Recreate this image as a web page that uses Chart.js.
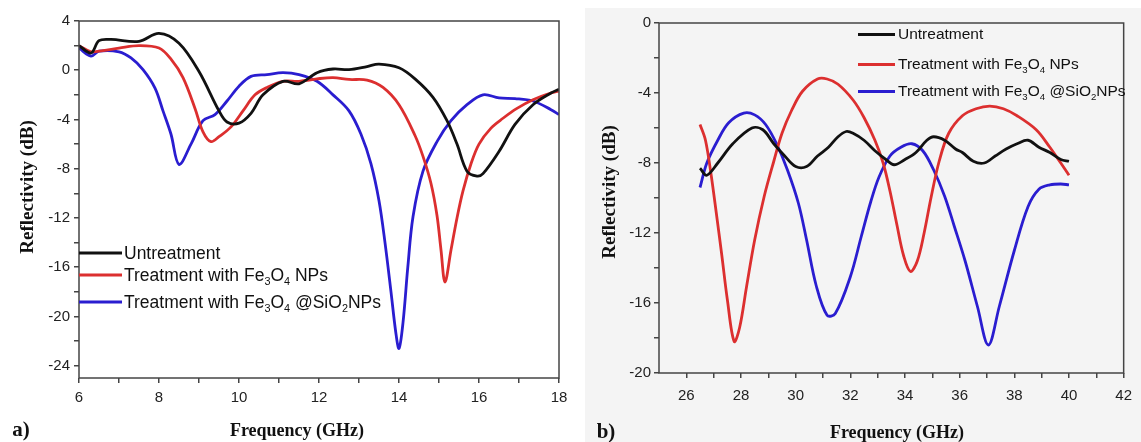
<!DOCTYPE html>
<html>
<head>
<meta charset="utf-8">
<script src="https://cdn.jsdelivr.net/npm/chart.js@4.4.0/dist/chart.umd.min.js"></script>
<style>
body { margin: 0; width: 1141px; height: 442px; background: #fff; position: relative; overflow: hidden; font-family: "Liberation Sans", Arial, sans-serif; }
#panelB { position: absolute; left: 585px; top: 8px; width: 556px; height: 434px; background: #f4f4f4; }
canvas { position: absolute; top: 0; }
.t { position: absolute; font-family: "Liberation Serif", "Times New Roman", serif; font-weight: bold; color: #111; white-space: nowrap; transform: translate(-50%, -50%); }
.row { position: absolute; display: flex; align-items: center; white-space: nowrap; color: #111; transform: translateY(-50%); }
.row .ln { display: inline-block; }
sub { font-size: 0.62em; vertical-align: -0.4em; line-height: 0; }
</style>
</head>
<body>
<div id="panelB"></div>
<canvas id="chartA" width="575" height="442" style="left:0"></canvas>
<canvas id="chartB" width="566" height="442" style="left:575px"></canvas>
<div id="texts"></div>
<script>
// series names (legend uses the html version with subscripts)
const seriesNames = ['Untreatment', 'Treatment with Fe<sub>3</sub>O<sub>4</sub> NPs', 'Treatment with Fe<sub>3</sub>O<sub>4</sub> @SiO<sub>2</sub>NPs'];
const seriesColors = ['#111111', '#dc2f2f', '#2a1dd0'];

// tick positions (labels only on every 2nd one)
const aXTicks = [6, 7, 8, 9, 10, 11, 12, 13, 14, 15, 16, 17, 18];
const aYTicks = [-24, -22, -20, -18, -16, -14, -12, -10, -8, -6, -4, -2, 0, 2, 4];
const bXTicks = [26, 27, 28, 29, 30, 31, 32, 33, 34, 35, 36, 37, 38, 39, 40, 41, 42];
const bYTicks = [-20, -18, -16, -14, -12, -10, -8, -6, -4, -2, 0];

// a) 6-18 GHz
const aFreqBlack = [6.0, 6.3, 6.5, 6.8, 7.5, 8.0, 8.5, 9.0, 9.5, 9.7, 10.0, 10.3, 10.6, 11.1, 11.5, 11.95, 12.35, 12.75, 13.2, 13.5, 14.0, 14.4, 14.85, 15.2, 15.45, 15.7, 15.95, 16.1, 16.5, 16.9, 17.35, 17.8, 18.0];
const aBlack = [2.0, 1.4, 2.4, 2.5, 2.35, 3.0, 2.2, -0.1, -3.3, -4.2, -4.3, -3.5, -2.0, -0.9, -1.1, -0.2, 0.1, 0.05, 0.3, 0.5, 0.2, -0.7, -2.2, -4.1, -6.0, -8.2, -8.6, -8.4, -6.6, -4.4, -2.8, -1.85, -1.55];

const aFreqRed = [6.0, 6.3, 6.6, 7.0, 7.5, 8.0, 8.3, 8.6, 8.9, 9.1, 9.3, 9.5, 9.8, 10.1, 10.4, 10.7, 11.1, 11.5, 11.95, 12.35, 12.75, 13.2, 13.6, 14.0, 14.4, 14.6, 14.8, 14.95, 15.05, 15.15, 15.3, 15.45, 15.6, 15.8, 16.0, 16.3, 16.6, 16.95, 17.35, 17.8, 18.0];
const aRed = [2.0, 1.5, 1.6, 1.8, 2.0, 1.8, 0.9, -0.6, -3.1, -5.0, -5.8, -5.4, -4.6, -3.3, -2.0, -1.4, -0.9, -0.9, -0.7, -0.6, -0.75, -0.8, -1.4, -2.8, -5.3, -7.0, -9.2, -11.8, -14.6, -17.2, -14.6, -12.0, -9.8, -7.6, -6.0, -4.7, -3.9, -3.1, -2.4, -1.85, -1.7];

const aFreqBlue = [6.0, 6.3, 6.5, 7.0, 7.3, 7.6, 7.9, 8.1, 8.3, 8.5, 8.8, 9.1, 9.4, 9.7, 10.0, 10.3, 10.7, 11.1, 11.5, 11.95, 12.35, 12.75, 13.05, 13.3, 13.5, 13.65, 13.8, 13.92, 14.0, 14.1, 14.22, 14.35, 14.6, 14.95, 15.3, 15.7, 16.1, 16.5, 16.9, 17.35, 17.8, 18.0];
const aBlue = [1.8, 1.15, 1.55, 1.5, 1.0, 0.05, -1.45, -3.3, -5.2, -7.65, -6.0, -4.1, -3.6, -2.5, -1.3, -0.5, -0.35, -0.2, -0.35, -0.9, -2.0, -3.3, -5.2, -7.6, -10.6, -14.0, -18.0, -21.3, -22.6, -20.5, -16.0, -11.9, -8.2, -5.8, -4.1, -2.8, -2.0, -2.25, -2.3, -2.5, -3.2, -3.6];

// b) 26.5-40 GHz
const bFreqBlack = [26.5, 26.75, 27.15, 27.7, 28.4, 28.8, 29.2, 29.6, 30.0, 30.4, 30.8, 31.2, 31.55, 31.85, 32.1, 32.5, 32.9, 33.3, 33.6, 34.0, 34.4, 34.8, 35.05, 35.45, 35.85, 36.1, 36.5, 36.9, 37.3, 37.7, 38.1, 38.5, 38.9, 39.3, 39.7, 40.0];
const bBlack = [-8.3, -8.7, -8.0, -6.9, -6.0, -6.1, -6.9, -7.6, -8.2, -8.2, -7.6, -7.1, -6.5, -6.2, -6.3, -6.7, -7.3, -7.8, -8.1, -7.8, -7.4, -6.7, -6.5, -6.7, -7.2, -7.4, -7.9, -8.0, -7.6, -7.2, -6.9, -6.7, -7.1, -7.4, -7.8, -7.9];

const bFreqRed = [26.5, 26.7, 26.9, 27.1, 27.3, 27.5, 27.75, 27.95, 28.2, 28.5, 28.85, 29.2, 29.5, 29.85, 30.25, 30.8, 31.15, 31.55, 32.1, 32.5, 32.9, 33.2, 33.45, 33.7, 33.95, 34.2, 34.45, 34.7, 34.95, 35.25, 35.6, 36.1, 36.6, 37.1, 37.6, 38.1, 38.8, 39.3, 39.7, 40.0];
const bRed = [-5.8, -6.7, -8.6, -10.9, -13.3, -15.8, -18.2, -17.4, -15.1, -12.4, -9.9, -7.9, -6.3, -5.0, -3.9, -3.2, -3.2, -3.5, -4.4, -5.4, -6.7, -8.0, -9.6, -11.5, -13.3, -14.2, -13.6, -12.0, -10.0, -7.9, -6.3, -5.3, -4.9, -4.75, -4.9, -5.3, -6.1, -7.1, -8.0, -8.7];

const bFreqBlue = [26.5, 26.75, 27.15, 27.55, 28.1, 28.5, 28.9, 29.3, 29.7, 30.1, 30.4, 30.75, 31.15, 31.45, 32.0, 32.4, 32.75, 33.05, 33.45, 33.85, 34.25, 34.65, 35.05, 35.45, 35.8, 36.2, 36.65, 37.05, 37.45, 38.0, 38.5, 38.9, 39.3, 39.7, 40.0];
const bBlue = [-9.4, -8.0, -6.7, -5.7, -5.15, -5.25, -5.8, -6.9, -8.4, -10.3, -12.4, -15.0, -16.7, -16.6, -14.5, -12.2, -10.2, -8.8, -7.6, -7.1, -6.9, -7.3, -8.4, -9.9, -11.6, -13.6, -16.2, -18.4, -16.2, -13.0, -10.5, -9.5, -9.25, -9.2, -9.25];

function pts(xs, ys) {
    return xs.map((x, i) => ({ x: x, y: ys[i] }));
}

function plainLabel(html) {
    return html.replace(/<sub>(\d)<\/sub>/g, (m, d) => String.fromCharCode(0x2080 + Number(d)));
}

function makeDatasets(list) {
    return list.map((s, i) => ({
        label: plainLabel(seriesNames[i]),
        data: pts(s[0], s[1]),
        borderColor: seriesColors[i],
        borderWidth: 2.8,
        pointRadius: 0,
        tension: 0.35,
        fill: false
    }));
}

// box around the plot area
const framePlugin = {
    id: 'frame',
    afterDraw(chart) {
        const { ctx, chartArea: a } = chart;
        ctx.save();
        ctx.strokeStyle = '#444';
        ctx.lineWidth = 1.5;
        ctx.strokeRect(a.left, a.top, a.right - a.left, a.bottom - a.top);
        ctx.restore();
    }
};

function axis(min, max, tickList, labelEvery, fitSize, isX, pad) {
    return {
        type: 'linear',
        min: min,
        max: max,
        afterBuildTicks: s => { s.ticks = tickList.map(v => ({ value: v })); },
        afterFit: s => { if (isX) s.height = fitSize; else s.width = fitSize; },
        border: { display: false },
        grid: { drawOnChartArea: false, drawTicks: true, tickLength: 5, color: '#444', lineWidth: 1.5 },
        ticks: {
            autoSkip: false,
            maxRotation: 0,
            padding: pad,
            color: '#222',
            font: { family: '"Liberation Sans", Arial, sans-serif', size: 15 },
            callback: v => (Math.round(v) % labelEvery === 0 ? Math.round(v) : '')
        }
    };
}

function baseOptions(xAxis, yAxis, padding) {
    return {
        responsive: false,
        animation: false,
        layout: { padding: padding },
        plugins: { legend: { display: false }, tooltip: { enabled: false } },
        scales: { x: xAxis, y: yAxis }
    };
}

const chartA = new Chart(document.getElementById('chartA'), {
    type: 'line',
    data: { datasets: makeDatasets([[aFreqBlack, aBlack], [aFreqRed, aRed], [aFreqBlue, aBlue]]) },
    options: baseOptions(axis(6, 18, aXTicks, 2, 64, true, 6), axis(-25, 4, aYTicks, 4, 79, false, 4), { left: 0, right: 16, top: 21, bottom: 0 }),
    plugins: [framePlugin]
});

const chartB = new Chart(document.getElementById('chartB'), {
    type: 'line',
    data: { datasets: makeDatasets([[bFreqBlack, bBlack], [bFreqRed, bRed], [bFreqBlue, bBlue]]) },
    options: baseOptions(axis(25, 42, bXTicks, 2, 69, true, 9), axis(-20, 0, bYTicks, 4, 84, false, 3), { left: 0, right: 10, top: 23, bottom: 0 }),
    plugins: [framePlugin]
});

// titles, panel letters and legends as html text
const texts = document.getElementById('texts');
function addText(html, x, y, size, rotate) {
    const d = document.createElement('div');
    d.className = 't';
    d.innerHTML = html;
    d.style.left = x + 'px';
    d.style.top = y + 'px';
    d.style.fontSize = size + 'px';
    if (rotate) d.style.transform = 'translate(-50%, -50%) rotate(-90deg)';
    texts.appendChild(d);
}
addText('Frequency (GHz)', 297, 430, 18);
addText('Frequency (GHz)', 897, 432, 18);
addText('Reflectivity (dB)', 27, 187, 19, true);
addText('Reflectivity (dB)', 609, 192, 19, true);
addText('a)', 21, 429, 21);
addText('b)', 606, 431, 21);

function addLegend(x, ys, lineLen, lineW, gap, size) {
    seriesNames.forEach((name, i) => {
        const r = document.createElement('div');
        r.className = 'row';
        r.style.left = x + 'px';
        r.style.top = ys[i] + 'px';
        r.style.fontSize = size + 'px';
        r.innerHTML = '<span class="ln" style="width:' + lineLen + 'px;height:' + lineW + 'px;background:' + seriesColors[i] + ';margin-right:' + gap + 'px"></span><span>' + name + '</span>';
        texts.appendChild(r);
    });
}
addLegend(79, [253, 275, 302], 43, 3.5, 2, 17.5);
addLegend(858, [34, 64, 91], 37, 3, 3, 15.5);
</script>
</body>
</html>
